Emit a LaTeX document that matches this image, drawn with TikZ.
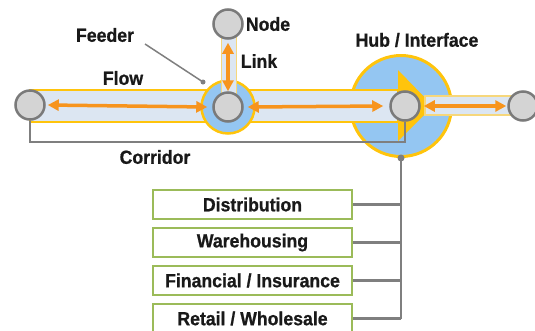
\documentclass[tikz,border=0pt]{standalone}
\usepackage{fontspec}
\setmainfont{Liberation Sans}
\newfontfamily\labelfont{Liberation Sans Bold}[FakeStretch=0.93, FakeBold=0.8]
\usetikzlibrary{arrows.meta}
\definecolor{bandfill}{HTML}{DCE6F2}
\definecolor{gold}{HTML}{FFC40C}
\definecolor{paleGold}{HTML}{F6D77C}
\definecolor{hubblue}{HTML}{94C6F2}
\definecolor{flowOrange}{HTML}{F7941D}
\definecolor{nodeFill}{HTML}{D4D4D4}
\definecolor{nodeEdge}{HTML}{7A7A7A}
\definecolor{wireGray}{HTML}{7F7F7F}
\definecolor{boxGreen}{HTML}{9BBB59}
\tikzset{
  lbl/.style={font=\labelfont\fontsize{19}{22}\selectfont, text=black!90, inner sep=0pt},
  netnode/.style={circle, fill=nodeFill, draw=nodeEdge, line width=2.5pt, minimum size=29pt, inner sep=0pt},
  flowarrow/.style={draw=flowOrange, line width=3.5pt, {Triangle[length=11pt,width=11pt]}-{Triangle[length=11pt,width=11pt]}},
  wire/.style={draw=wireGray, line width=2.5pt},
  sector/.style={draw=boxGreen, line width=2.5pt, fill=white, minimum width=199pt, minimum height=29pt, inner sep=0pt, font=\labelfont\fontsize{19}{22}\selectfont, text=black!90},
  zone/.style={circle, fill=hubblue, draw=gold, line width=3pt, inner sep=0pt}
}
\begin{document}
\begin{tikzpicture}[x=1pt,y=-1pt]
\useasboundingbox (0,0) rectangle (535,330);

% hub zone
\node[zone, minimum size=101pt] (hub) at (401,106) {};

% main flow band with its arrow head
\coordinate (bandTL) at (30,90);
\coordinate (bandBR) at (398,122);
\draw[fill=bandfill, draw=gold, line width=2.5pt] (bandTL) rectangle (bandBR);
\fill[gold] (398,70) -- (433,106) -- (398,141) -- cycle;

% feeder zone around the middle node
\node[zone, line width=2.5pt, minimum size=53pt] (feedzone) at (228,107) {};

% link band and the short band to the right
\draw[fill=bandfill, draw=paleGold, line width=1.5pt] (221.5,24) rectangle (236.5,100);
\draw[fill=bandfill, draw=paleGold, line width=1.5pt] (425,96) rectangle (523,115);

% nodes
\node[netnode] (L) at (30,105) {};
\node[netnode] (M) at (228,107) {};
\node[netnode] (T) at (228,24) {};
\node[netnode] (H) at (405,106) {};
\node[netnode] (R) at (523,106) {};

% corridor bracket
\draw[wire] (L.south) -- (L.south |- 0,142) -| (H.south);

% flows
\draw[flowarrow] ([xshift=2pt]L.east) -- ([xshift=-5pt]M.west);
\draw[flowarrow] ([xshift=4pt]M.east) -- ([xshift=-6pt]H.west);
\draw[flowarrow] ([xshift=3pt]H.east) -- ([xshift=-1pt]R.west);
\draw[flowarrow] ([yshift=-3pt]T.south) -- (M.north);

% labels
\node[lbl] (nodeLbl) at (268,24) {Node};
\node[lbl] (linkLbl) at (259,61) {Link};
\node[lbl] (feederLbl) at (105,35) {Feeder};
\node[lbl] (flowLbl) at (123,78) {Flow};
\node[lbl] (hubLbl) at (417,40) {Hub / Interface};
\node[lbl] (corrLbl) at (155,157) {Corridor};

% feeder pointer
\coordinate (fdStart) at (145,44);
\coordinate (fdEnd) at (203,82);
\draw[draw=wireGray, line width=1.5pt] (fdStart) -- (fdEnd);
\fill[wireGray] (fdEnd) circle (2.5pt);

% economic activities attached to the hub
\node[sector] (s1) at (252.5,204.5) {Distribution};
\node[sector] (s2) at (252.5,242.5) {Warehousing};
\node[sector] (s3) at (252.5,280.5) {Financial / Insurance};
\node[sector] (s4) at (252.5,318.5) {Retail / Wholesale};

\draw[wire] (hub.south) -- (hub.south |- s4.east);
\fill[wireGray] (hub.south) circle (3.5pt);
\foreach \s in {s1,s2,s3,s4}
  \draw[wire] (\s.east) -- (\s.east -| hub.south);
\end{tikzpicture}
\end{document}
